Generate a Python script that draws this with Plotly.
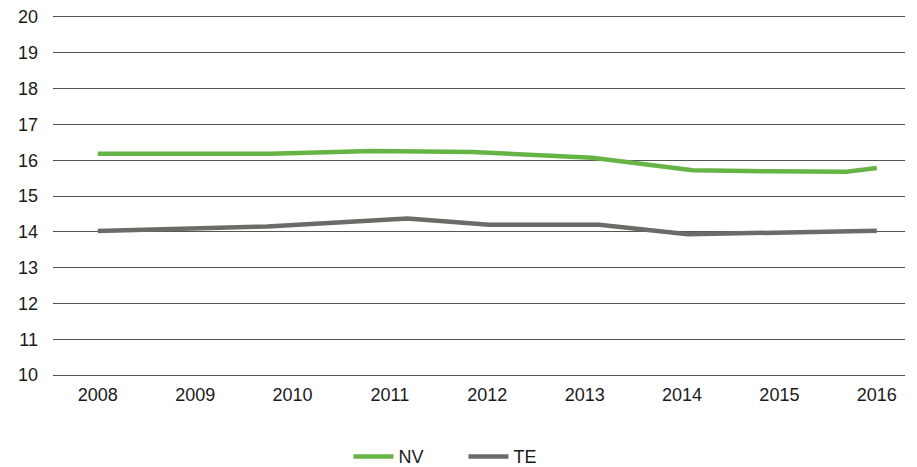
import plotly.graph_objects as go

FONT = "Liberation Sans, Arial, sans-serif"

# tick labels
years = [2008, 2009, 2010, 2011, 2012, 2013, 2014, 2015, 2016]

# NV series (x in fractional years, as drawn in the source)
nv_x = [2008.0, 2009.77, 2010.82, 2011.85, 2013.08, 2014.11, 2014.9, 2015.69, 2016.0]
nv_y = [16.18, 16.18, 16.26, 16.23, 16.07, 15.72, 15.69, 15.68, 15.78]

# TE series
te_x = [2008.0, 2009.74, 2011.18, 2012.02, 2013.15, 2014.06, 2016.0]
te_y = [14.02, 14.15, 14.37, 14.2, 14.2, 13.93, 14.03]

GREEN = "#66B446"
GREY = "#6B6B67"
GRID = "#555555"

fig = go.Figure()
fig.add_trace(go.Scatter(name="NV", x=nv_x, y=nv_y, mode="lines",
                         line=dict(color=GREEN, width=4.5)))
fig.add_trace(go.Scatter(name="TE", x=te_x, y=te_y, mode="lines",
                         line=dict(color=GREY, width=4.5)))

fig.update_layout(
    width=917, height=467,
    margin=dict(l=53, r=12, t=17, b=92, autoexpand=False),
    plot_bgcolor="white", paper_bgcolor="white",
    font=dict(family=FONT, size=18, color="#1a1a1a"),
    showlegend=True,
    legend=dict(orientation="h", xref="container", xanchor="left", x=0.38,
                yref="container", yanchor="middle", y=0.022,
                font=dict(size=18), itemwidth=40, entrywidth=60),
)
fig.update_xaxes(
    range=[2007.54, 2016.29], tickvals=years, ticktext=[str(y) for y in years],
    showgrid=False, zeroline=False, showline=True, mirror=True,
    linecolor=GRID, linewidth=1, ticks="", ticklabelstandoff=3,
)
fig.update_yaxes(
    range=[10, 20], dtick=1, showgrid=True, gridcolor=GRID, gridwidth=1,
    zeroline=False, showline=False, ticks="", ticklabelstandoff=14,
)
# drop the default page margin so the figure sits at the window's corner
fig.write_html("out.html", config={"displayModeBar": False},
               post_script="document.body.style.margin='0';")
